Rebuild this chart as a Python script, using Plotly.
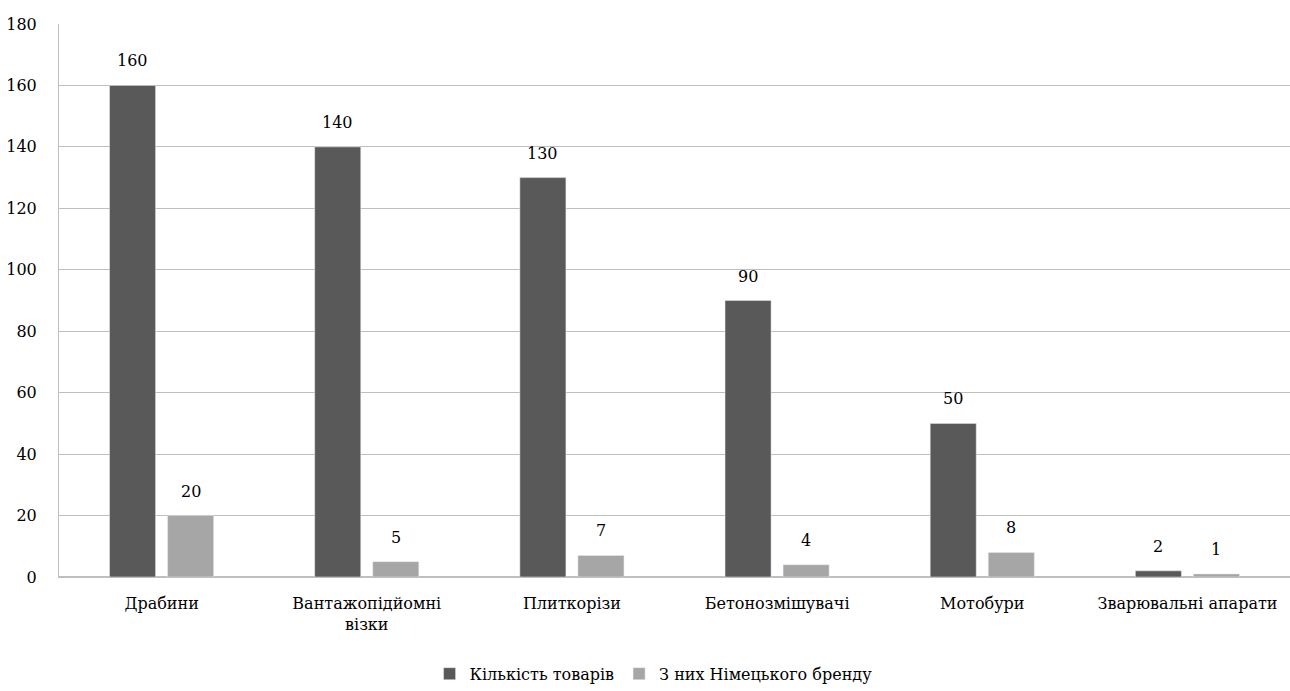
import plotly.graph_objects as go

categories = ["Драбини", "Вантажопідйомні<br>візки", "Плиткорізи",
              "Бетонозмішувачі", "Мотобури", "Зварювальні апарати"]
total_goods = [160, 140, 130, 90, 50, 2]
german_brand = [20, 5, 7, 4, 8, 1]
series_names = ["Кількість товарів", "З них Німецького бренду"]
y_ticks = [0, 20, 40, 60, 80, 100, 120, 140, 160, 180]

DARK = "#595959"
LIGHT = "#a6a6a6"
FONT = "DejaVu Serif"
FS_NUM = 16
FS_TXT = 16

fig = go.Figure()
fig.add_trace(go.Bar(x=categories, y=total_goods, name=series_names[0],
                     marker_color=DARK))
fig.add_trace(go.Bar(x=categories, y=german_brand, name=series_names[1],
                     marker_color=LIGHT))

# value labels above each bar, shifted to the bar's slot in the group
for vals, shift in ((total_goods, -29), (german_brand, 29)):
    for c, v in zip(categories, vals):
        fig.add_annotation(x=c, y=v, text=str(v), showarrow=False,
                           xshift=shift, yshift=13, yanchor="bottom",
                           font=dict(family=FONT, size=FS_NUM, color="black"))

fig.update_layout(
    width=1290, height=691,
    margin=dict(l=59, r=0, t=24, b=111),
    paper_bgcolor="white", plot_bgcolor="white",
    barmode="group", bargap=0.434, bargroupgap=0.207,
    font=dict(family=FONT, size=FS_TXT, color="black"),
    showlegend=True,
    legend=dict(orientation="h", x=0.483, xanchor="center", y=-0.175,
                yanchor="middle", font=dict(family=FONT, size=FS_TXT),
                itemwidth=30, traceorder="normal"),
)
fig.update_xaxes(showgrid=False, showline=True, linecolor="#bfbfbf",
                 linewidth=1, ticks="", ticklabelstandoff=12,
                 tickfont=dict(family=FONT, size=FS_TXT))
fig.update_yaxes(range=[0, 180], tickvals=y_ticks, showgrid=True,
                 gridcolor="#bfbfbf", gridwidth=1, zeroline=True,
                 zerolinecolor="#bfbfbf", showline=True, linecolor="#bfbfbf",
                 ticks="", ticklabelstandoff=18,
                 tickfont=dict(family=FONT, size=FS_NUM))

fig.write_html("out.html")
